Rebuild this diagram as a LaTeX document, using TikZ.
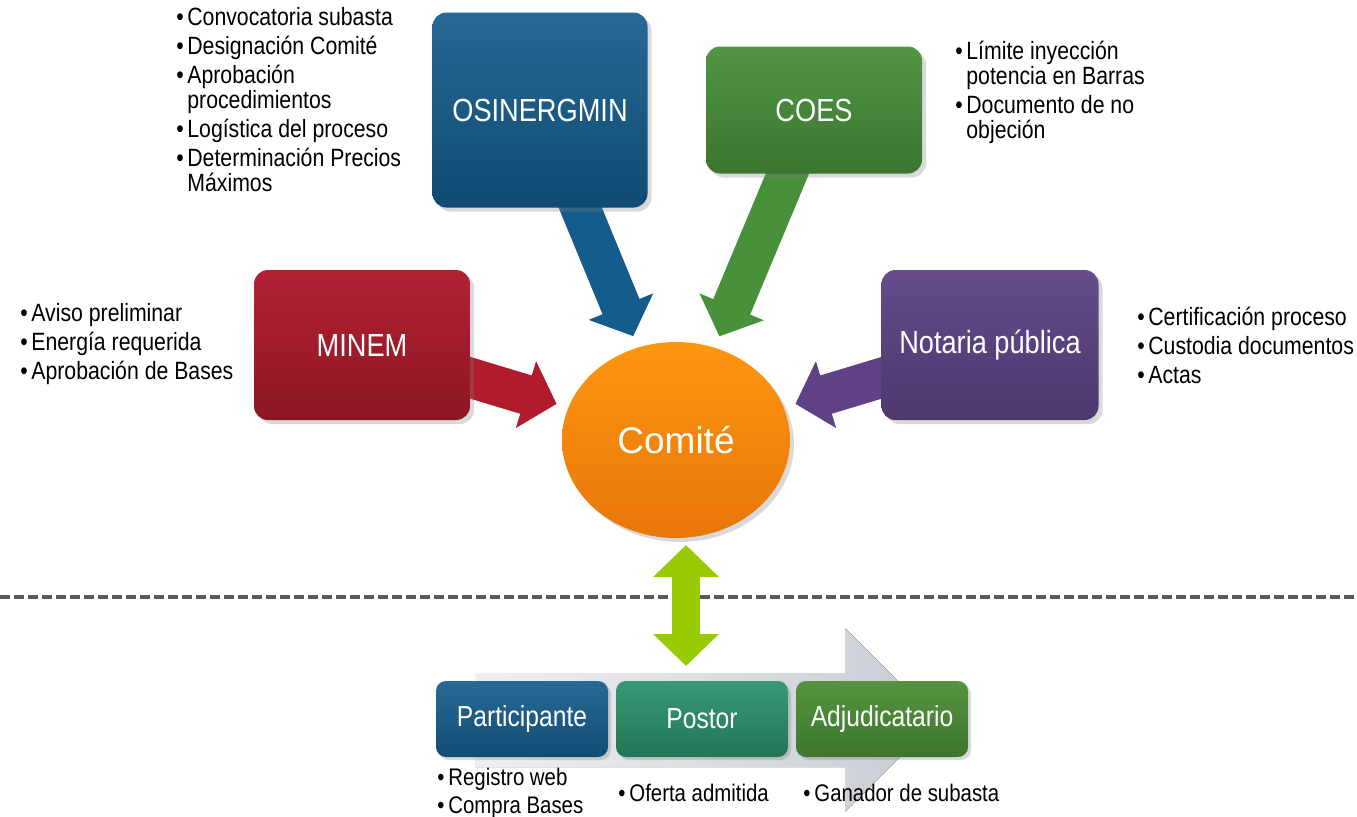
\documentclass[tikz,border=0pt]{standalone}
\usepackage{fontspec}
\setmainfont{Liberation Sans}[FakeStretch=0.85]
\newfontfamily\comitefont{Liberation Sans}
\usetikzlibrary{arrows.meta,shadows,backgrounds,shapes.geometric}
\definecolor{osinblue}{HTML}{135C8B}
\definecolor{coesgreen}{HTML}{48903A}
\definecolor{minemred}{HTML}{B01B2D}
\definecolor{notapurple}{HTML}{5F4286}
\definecolor{comitetop}{HTML}{FD960F}
\definecolor{comitebot}{HTML}{E8760A}
\definecolor{partblue}{HTML}{155D8C}
\definecolor{postorteal}{HTML}{28906A}
\definecolor{adjugreen}{HTML}{4B8F36}
\definecolor{limegreen}{HTML}{99CC00}
\definecolor{flowgray}{HTML}{C8CCD3}
\definecolor{dashgray}{HTML}{5A5A5A}
\newcommand{\bul}{\makebox[5.5pt][l]{\textbullet}}
\newcommand{\ind}{\hspace*{5.5pt}}

\begin{document}
\begin{tikzpicture}[x=0.5pt,y=-0.5pt]
    \tikzset{
      box/.style={rectangle, rounded corners=7pt, text=white, font=\fontsize{16}{19}\selectfont, drop shadow={opacity=0.3, shadow xshift=2pt, shadow yshift=-2pt}},
      stage/.style={rectangle, rounded corners=5pt, minimum width=86pt, minimum height=38pt, text=white, font=\fontsize{14.5}{17}\selectfont, drop shadow={opacity=0.3, shadow xshift=1.5pt, shadow yshift=-1.5pt}},
      list/.style={anchor=north west, inner sep=0pt, align=left, font=\fontsize{12.5}{12.5}\selectfont},
      fat/.style={line width=20pt, -{Triangle[width=34pt,length=16pt]}, shorten >=6pt},
      dbl/.style={draw=limegreen, line width=14pt, {Triangle[width=32pt,length=16pt]}-{Triangle[width=32pt,length=16pt]}},
      dashline/.style={draw=dashgray, line width=1.6pt, dash pattern=on 5pt off 2pt}
    }
    \useasboundingbox (0,0) rectangle (1357,816);

    % actors round the committee
    \node [box, minimum width=107.5pt, minimum height=97.5pt, top color=osinblue!92!white, bottom color=osinblue!82!black] (osin) at (540,110) {OSINERGMIN};
    \node [box, minimum width=108pt, minimum height=63.5pt, top color=coesgreen!95!white, bottom color=coesgreen!82!black] (coes) at (814,110) {COES};
    \node [box, minimum width=108pt, minimum height=75pt, top color=minemred!97!white, bottom color=minemred!80!black] (minem) at (362,345) {MINEM};
    \node [box, minimum width=108.5pt, minimum height=75pt, top color=notapurple!95!white, bottom color=notapurple!82!black] (nota) at (990,345) {Notaria pública};
    \node [ellipse, minimum width=114pt, minimum height=98pt, inner sep=0pt, text=white, top color=comitetop, bottom color=comitebot, drop shadow={opacity=0.3, shadow xshift=2pt, shadow yshift=-2pt}] (comite) at (676,440) {\comitefont\fontsize{18.5}{20}\selectfont Comité};

    % tasks of each actor
    \node [list] (osinlist) at (176,7) {\bul Convocatoria subasta\\[2pt] \bul Designación Comité\\[2pt] \bul Aprobación\\ \ind procedimientos\\[2pt] \bul Logística del proceso\\[2pt] \bul Determinación Precios\\ \ind Máximos};
    \node [list] (coeslist) at (955,41) {\bul Límite inyección\\ \ind potencia en Barras\\[2pt] \bul Documento de no\\ \ind objeción};
    \node [list] (minemlist) at (20,303) {\bul Aviso preliminar\\[2pt] \bul Energía requerida\\[2pt] \bul Aprobación de Bases};
    \node [list] (notalist) at (1137,307) {\bul Certificación proceso\\[2pt] \bul Custodia documentos\\[2pt] \bul Actas};

    % stages of the bidder
    \node [stage, top color=partblue!92!white, bottom color=partblue!82!black] (part) at (522,719) {Participante};
    \node [stage, top color=postorteal!92!white, bottom color=postorteal!82!black] (postor) at (702,719) {Postor};
    \node [stage, top color=adjugreen!95!white, bottom color=adjugreen!82!black] (adju) at (882,719) {Adjudicatario};
    \node [list, font=\fontsize{12}{14}\selectfont] (partlist) at (437,768) {\bul Registro web\\ \bul Compra Bases};
    \node [list, font=\fontsize{12}{14}\selectfont] (postorlist) at (618,784) {\bul Oferta admitida};
    \node [list, font=\fontsize{12}{14}\selectfont] (adjulist) at (803,784) {\bul Ganador de subasta};

    \begin{scope}[on background layer]
      \fill [left color=flowgray!30, right color=flowgray] (475,673) -- (845,673) -- (845,628) -- (937,720) -- (845,812) -- (845,767) -- (475,767) -- cycle;
      \path [dashline] (0,597) -- (1357,597);
      \path [fat, draw=osinblue] (osin.center) -- (comite);
      \path [fat, draw=coesgreen] (coes.center) -- (comite);
      \path [fat, draw=minemred] (minem.center) -- (comite);
      \path [fat, draw=notapurple] (nota.center) -- (comite);
    \end{scope}

    \coordinate (up) at (686,545);
    \coordinate (down) at (686,666);
    \path [dbl] (up) -- (down);
\end{tikzpicture}
\end{document}
